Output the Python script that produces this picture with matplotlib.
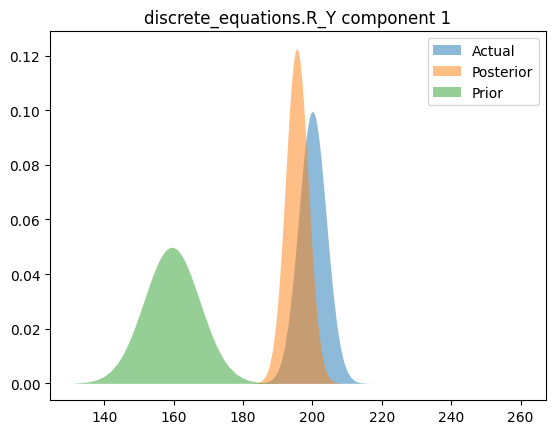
import matplotlib
matplotlib.use("Agg")
import matplotlib.pyplot as plt

# ── data (density curves) ────────────────────────────────────────────────────
actual_x = [184, 185, 186, 187, 188, 189, 190, 191, 192, 193, 194, 195, 196,
            196.5, 197, 197.5, 198, 198.5, 199, 199.5, 200, 200.5, 201, 201.5,
            202, 202.5, 203, 203.5, 204, 205, 206, 207, 208, 209,
            210, 211, 212, 213, 214, 215, 216, 218]
actual_y = [0.000033, 0.000088, 0.00022, 0.00051, 0.00111, 0.00227, 0.00438,
            0.00793, 0.01349, 0.02157, 0.03237, 0.04564, 0.06047,
            0.06798, 0.07526, 0.08201, 0.08799, 0.09293, 0.09664, 0.09892,
            0.0997, 0.09892, 0.09664, 0.09293, 0.08799, 0.08201, 0.07526,
            0.06798, 0.06047, 0.04564, 0.03237, 0.02157, 0.01349, 0.00793,
            0.00438, 0.00227, 0.00111, 0.00051, 0.00022, 0.000088, 0.000033,
            0.000005]

posterior_x = [182.5, 183.5, 184.5, 185.5, 186.5, 187.5, 188.5, 189.5, 190,
               190.5, 191, 191.5, 192, 192.5, 193, 193.5, 194, 194.5, 195,
               195.5, 196, 196.5, 197, 197.5, 198, 198.5, 199, 199.5, 200,
               200.5, 201, 201.5, 202.5, 203.5, 204.5, 205.5, 206.5, 207.5,
               208.5]
posterior_y = [0.000041, 0.000135, 0.000399, 0.00108, 0.00266, 0.00594,
               0.01207, 0.02234, 0.02934, 0.0376, 0.04708, 0.05758, 0.06877,
               0.0802, 0.09135, 0.10162, 0.1104, 0.11713, 0.12135, 0.1228,
               0.12135, 0.11713, 0.1104, 0.10162, 0.09135, 0.0802, 0.06877,
               0.05758, 0.04708, 0.0376, 0.02934, 0.02234, 0.01207, 0.00594,
               0.00266, 0.00108, 0.000399, 0.000135, 0.000041]

prior_x = [131, 132, 134, 136, 138, 140, 142, 144, 145, 146, 147, 148, 149,
           150, 151, 152, 153, 154, 155, 156, 157, 158, 159, 160, 161, 162,
           163, 164, 165, 166, 167, 168, 169, 170, 171, 172, 173, 174, 175,
           176, 178, 180, 182, 184, 186, 188, 190]
prior_y = [0.00003, 0.000136, 0.00031, 0.00067, 0.00135, 0.00256, 0.00456,
           0.00763, 0.00965, 0.01201, 0.01472, 0.01776, 0.02109, 0.02465,
           0.02837, 0.03215, 0.03587, 0.03939, 0.04259, 0.04534, 0.04751,
           0.04902, 0.0498, 0.04977, 0.04903, 0.04751, 0.04534, 0.04259,
           0.03939, 0.03587, 0.03215, 0.02837, 0.02465, 0.02109, 0.01776,
           0.01472, 0.01201, 0.00965, 0.00763, 0.00595, 0.00344, 0.00187,
           0.00096, 0.00046, 0.00021, 0.000087, 0.000035]

TITLE = "discrete_equations.R_Y component 1"

# ── draw ──────────────────────────────────────────────────────────────────────
fig, ax = plt.subplots(figsize=(5.56, 4.35), dpi=100)
fig.subplots_adjust(left=0.09, right=0.982, top=0.926, bottom=0.078)

ax.fill_between(actual_x, actual_y, color="tab:blue", alpha=0.5,
                linewidth=0, label="Actual")
ax.fill_between(posterior_x, posterior_y, color="tab:orange", alpha=0.5,
                linewidth=0, label="Posterior")
ax.fill_between(prior_x, prior_y, color="tab:green", alpha=0.5,
                linewidth=0, label="Prior")

ax.set_xlim(124.4, 267.3)
ax.set_xticks([140, 160, 180, 200, 220, 240, 260])
ax.set_yticks([0.0, 0.02, 0.04, 0.06, 0.08, 0.10, 0.12])
ax.set_title(TITLE)
ax.legend(loc="upper right")

fig.savefig("out.png", dpi=100)
